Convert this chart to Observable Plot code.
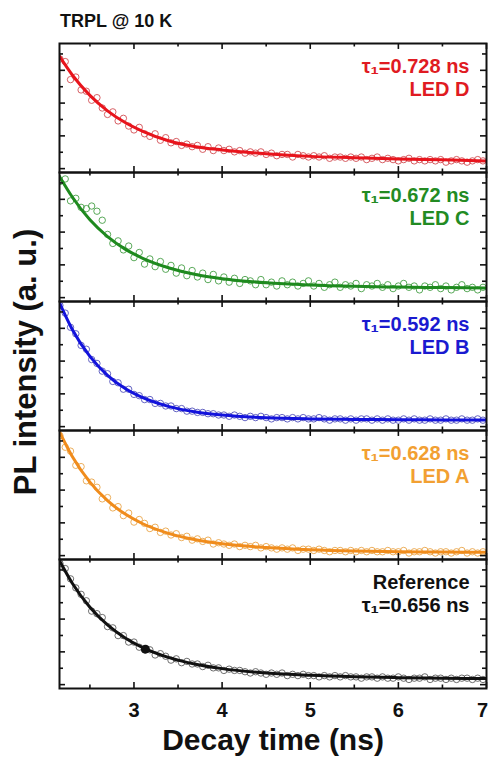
<!DOCTYPE html>
<html><head><meta charset="utf-8">
<script src="https://cdn.jsdelivr.net/npm/d3@7"></script>
<script src="https://cdn.jsdelivr.net/npm/@observablehq/plot@0.6"></script>
<style>
body{margin:0;background:#fff;font-family:'Liberation Sans',Arial,sans-serif;}
#title{height:36px;box-sizing:border-box;padding:12px 0 0 60px;font-size:18px;line-height:18px;font-weight:bold;color:#111;}
</style></head><body>
<div id="title">TRPL @ 10 K</div>
<div id="chart"></div>
<script>
// ---------- data ----------
const panels = ["D", "C", "B", "A", "Ref"];
const ledLabels = ["LED D", "LED C", "LED B", "LED A", "Reference"];
const tauLabels = ["τ₁=0.728 ns", "τ₁=0.672 ns", "τ₁=0.592 ns", "τ₁=0.628 ns", "τ₁=0.656 ns"];
const xMajorTicks = [3, 4, 5, 6, 7];
const xMinorTicks = [2.5, 3.5, 4.5, 5.5, 6.5];
const yMajorTicks = [3, 28.4, 53.8, 79.2];
const yMinorTicks = [15.7, 41.1, 66.5, 91.9];

// measured decay-time sampling (ns)
const times = d3.range(81).map(i => +(2.16 + 0.06 * i).toFixed(2));
// PL intensity, % of panel height
const decayD = [88,86,72,74,64,63,56,58,50,45,47,40,42,36,33,35,30,28,30,25,27,23,24,21,22,20,21,18,20,17,19,17,18,16,17,15,16,15,16,14,15,13,14,14,12,14,13,12,13,12,13,11,12,12,11,12,11,12,10,11,12,10,11,10,9,10,11,9,10,9,10,9,10,8,9,10,9,8,9,10,9];
const decayC = [93,95,78,80,73,72,74,70,63,52,45,47,40,43,34,38,29,33,27,31,25,28,22,26,20,24,19,22,17,21,16,19,15,18,14,17,16,13,17,13,15,12,16,13,15,12,14,16,12,14,11,13,15,11,13,12,14,10,13,12,14,11,13,10,12,14,11,12,9,12,11,13,10,12,9,11,13,10,11,9,11];
const decayB = [97,91,80,75,66,63,55,52,46,44,38,37,32,32,28,27,24,24,21,21,19,19,17,17,15,15,14,14,13,13,12,12,11,12,11,10,11,10,11,10,9,10,10,9,10,9,10,9,9,10,9,8,9,9,8,9,8,9,9,8,9,8,9,8,8,9,8,9,8,8,9,8,8,9,8,8,9,8,8,9,8];
const decayA = [96,87,84,73,72,61,60,56,47,48,40,41,34,36,29,31,28,24,25,21,22,19,20,17,18,15,16,14,15,12,13,12,11,12,10,11,10,11,9,10,9,8,9,8,9,7,8,8,7,8,7,6,7,7,6,7,6,7,6,7,6,6,7,6,6,7,5,6,6,7,6,5,6,6,5,6,7,5,6,5,6];
const decayRef = [97,93,85,78,73,68,60,58,55,48,47,41,41,36,36,32,30,30,26,27,25,22,23,20,21,19,19,17,18,16,16,14,15,14,14,13,12,13,12,11,12,11,12,10,11,10,11,10,10,9,10,9,10,9,10,9,9,8,9,9,8,9,8,8,9,8,7,8,8,9,7,8,8,7,8,7,8,8,7,8,7];

// fitted curves (read at these times)
const fitTimes = [2.155, 2.3, 2.5, 2.7, 2.9, 3.1, 3.4, 3.7, 4.0, 4.5, 5.0, 5.5, 6.0, 6.5, 7.0];
const fitD = [90, 75.6, 59.8, 47.8, 38.7, 31.9, 24.4, 20, 17.5, 14.5, 12.5, 11.5, 10.5, 9.8, 9];
const fitC = [97, 81, 63.3, 50.3, 40.6, 33.5, 26, 20.9, 17.7, 14.5, 12.8, 11.8, 11.2, 10.8, 10.5];
const fitB = [99, 78.3, 57.4, 42.8, 32.5, 25.4, 18.5, 14.4, 12, 9.9, 9, 8.6, 8.4, 8.2, 8.1];
const fitA = [99, 79.9, 60, 45.6, 35.2, 27.7, 20.1, 15.3, 12.2, 9.3, 7.6, 6.6, 6.1, 5.8, 5.6];
const fitRef = [99, 81.6, 63, 49.3, 39.2, 31.7, 23.9, 18.8, 15.4, 12, 10.2, 9.1, 8.4, 8, 7.7];

const markerT = [3.13];
const markerV = [30.5];

// ---------- styles ----------
const lineColor = {D: "#e8141c", C: "#1e8a1e", B: "#1212dc", A: "#f08c1c", Ref: "#111111"};
const dotColor = {D: "#d0454a", C: "#3c9a3c", B: "#4a4ab8", A: "#e8a040", Ref: "#555555"};
const textColor = {D: "#e01b22", C: "#238b23", B: "#1a1ad0", A: "#f2a032", Ref: "#111111"};

const decays = [decayD, decayC, decayB, decayA, decayRef];
const fits = [fitD, fitC, fitB, fitA, fitRef];

const scatter = panels.flatMap((p, k) => decays[k].map((v, i) => ({panel: p, t: times[i], v})));
const fitRows = panels.flatMap((p, k) => fits[k].map((v, i) => ({panel: p, t: fitTimes[i], v})));
const notes = panels.map((p, k) => ({
  panel: p,
  line1: p === "Ref" ? ledLabels[k] : tauLabels[k],
  line2: p === "Ref" ? tauLabels[k] : ledLabels[k]
}));
const marker = markerT.map((t, i) => ({panel: "Ref", t, v: markerV[i]}));
const tickLabelsInner = xMajorTicks.slice(0, -1).map(x => ({panel: "Ref", x}));
const tickLabelsLast = xMajorTicks.slice(-1).map(x => ({panel: "Ref", x}));

const X0 = 2.155, X1 = 7;
const W = 489, H = 722, ML = 59, MR = 3, MT = 5, MB = 69;
const pxPerX = (W - ML - MR) / (X1 - X0);
const pxPerY = (H - MT - MB) / panels.length / 100;
const ty = px => px / pxPerY;
const tx = px => px / pxPerX;
const font = "'Liberation Sans', Arial, sans-serif";
const tickLabelStyle = {x: "x", fy: "panel", text: d => String(d.x), frameAnchor: "bottom",
  lineAnchor: "bottom", dy: 28, fontSize: 20, fontWeight: "bold", fill: "#111"};

const chart = Plot.plot({
  width: W, height: H,
  marginTop: MT, marginBottom: MB, marginLeft: ML, marginRight: MR,
  x: {domain: [X0, X1], axis: null},
  y: {domain: [0, 100], axis: null},
  fy: {domain: panels, padding: 0, axis: null},
  color: {type: "identity"},
  style: {fontFamily: font, background: "white", color: "#111"},
  marks: [
    Plot.dot(scatter, {x: "t", y: "v", fy: "panel", r: 3.2, fill: "none",
      stroke: d => dotColor[d.panel], strokeWidth: 0.85, clip: true}),
    Plot.line(fitRows, {x: "t", y: "v", fy: "panel", z: "panel",
      stroke: d => lineColor[d.panel], strokeWidth: 3, curve: "monotone-x", clip: true}),
    Plot.dot(marker, {x: "t", y: "v", fy: "panel", r: 4.5, fill: "#111"}),
    // inward ticks
    Plot.ruleX(xMajorTicks, {x: d => d, y1: 0, y2: ty(6), stroke: "#111", strokeWidth: 1.6}),
    Plot.ruleX(xMajorTicks, {x: d => d, y1: 100 - ty(6), y2: 100, stroke: "#111", strokeWidth: 1.6}),
    Plot.ruleX(xMinorTicks, {x: d => d, y1: 0, y2: ty(3.5), stroke: "#111", strokeWidth: 1.6}),
    Plot.ruleX(xMinorTicks, {x: d => d, y1: 100 - ty(3.5), y2: 100, stroke: "#111", strokeWidth: 1.6}),
    Plot.ruleY(yMajorTicks, {y: d => d, x1: X0, x2: X0 + tx(6), stroke: "#111", strokeWidth: 1.6}),
    Plot.ruleY(yMajorTicks, {y: d => d, x1: X1 - tx(6), x2: X1, stroke: "#111", strokeWidth: 1.6}),
    Plot.ruleY(yMinorTicks, {y: d => d, x1: X0, x2: X0 + tx(4), stroke: "#111", strokeWidth: 1.6}),
    Plot.ruleY(yMinorTicks, {y: d => d, x1: X1 - tx(4), x2: X1, stroke: "#111", strokeWidth: 1.6}),
    Plot.frame({stroke: "#111", strokeWidth: 2}),
    // panel annotations
    Plot.text(notes, {fy: "panel", text: "line1", frameAnchor: "top-right", textAnchor: "end",
      lineAnchor: "bottom", dx: -17, dy: 29, fontSize: 20, fontWeight: "bold",
      fill: d => textColor[d.panel]}),
    Plot.text(notes, {fy: "panel", text: "line2", frameAnchor: "top-right", textAnchor: "end",
      lineAnchor: "bottom", dx: -17, dy: 52, fontSize: 20, fontWeight: "bold",
      fill: d => textColor[d.panel]}),
    // x tick labels
    Plot.text(tickLabelsInner, tickLabelStyle),
    Plot.text(tickLabelsLast, {...tickLabelStyle, dx: -4}),
    // axis titles
    Plot.text([{panel: "Ref", label: "Decay time (ns)"}], {fy: "panel", text: "label",
      frameAnchor: "bottom", textAnchor: "middle", lineAnchor: "bottom", dy: 61, fontSize: 30,
      fontWeight: "bold", fill: "#111"}),
    Plot.text([{panel: "B", label: "PL intensity (a. u.)"}], {fy: "panel", text: "label",
      frameAnchor: "left", textAnchor: "middle", lineAnchor: "bottom", rotate: -90, dx: -24, dy: -4,
      fontSize: 31, fontWeight: "bold", fill: "#111"})
  ]
});
document.getElementById("chart").appendChild(chart);
</script>
</body></html>
